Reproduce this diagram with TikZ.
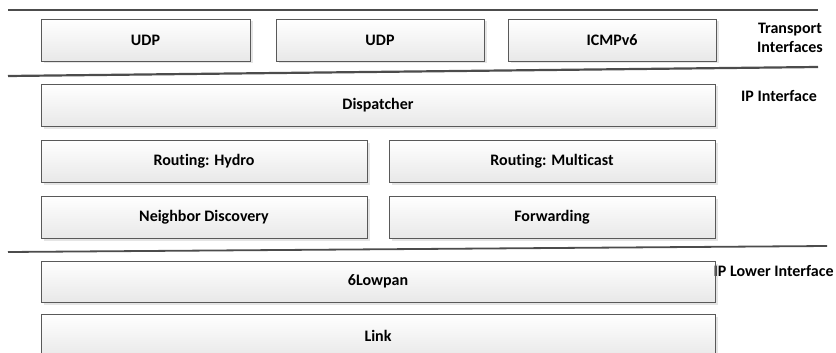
\documentclass[tikz,border=0pt]{standalone}
\usepackage{fontspec}
\setmainfont{Carlito}[Ligatures=NoCommon]
\begin{document}
\begin{tikzpicture}[x=1pt,y=-1pt,
  box/.style={draw=black!65, line width=0.8pt, top color=white, bottom color=black!9,
    font=\bfseries\fontsize{16}{19}\selectfont, inner sep=0pt, minimum height=42pt},
  shadowbox/.style={fill=black!10, draw=none},
  sep/.style={line width=2.2pt, draw=black!70},
  lbl/.style={font=\bfseries\fontsize{16}{19}\selectfont, align=center, inner sep=0pt}]
\useasboundingbox (0,0) rectangle (836,353);
\clip (0,0) rectangle (836,353);
% separator lines
\draw[sep] (8,10) -- (818,10);
\draw[sep] (8,76) -- (818,67);
\draw[sep, line width=1.8pt] (8,252) -- (827,246);
% shadows
\foreach \a/\b/\c/\d in {41/19/250/61, 276/19/484/61, 508/19/716/61, 41/84/715/126,
  41/140/367/182, 389/140/715/182, 41/196/367/238, 389/196/715/238, 41/261/715/302, 41/314/715/358}
  \fill[shadowbox] (\a+2.5,\b+2.5) rectangle (\c+2.5,\d+2.5);
% boxes
\node[box, minimum width=209pt] (udpa) at (145.5,40) {UDP};
\node[box, minimum width=208pt] (udpb) at (380,40) {UDP};
\node[box, minimum width=208pt] (icmp) at (612,40) {ICMPv6};
\node[box, minimum width=674pt] (disp) at (378,105) {Dispatcher};
\node[box, minimum width=326pt] (hydro) at (204,161) {Routing: Hydro};
\node[box, minimum width=326pt] (mcast) at (552,161) {Routing: Multicast};
\node[box, minimum width=326pt] (nd) at (204,217) {Neighbor Discovery};
\node[box, minimum width=326pt] (fwd) at (552,217) {Forwarding};
\node[box, minimum width=674pt, minimum height=41pt] (lowpan) at (378,281.5) {6Lowpan};
\node[box, minimum width=674pt, minimum height=44pt] (link) at (378,336) {Link};
% labels
\node[lbl] (tr) at (790,38) {Transport\\[0pt]Interfaces};
\node[lbl, anchor=west] (ipi) at (741,96) {IP Interface};
\node[lbl, anchor=west] (ipl) at (713.5,271) {IP Lower Interface};
\draw[draw=black!65, line width=0.8pt] (715,261) -- (715,302);
\end{tikzpicture}
\end{document}
